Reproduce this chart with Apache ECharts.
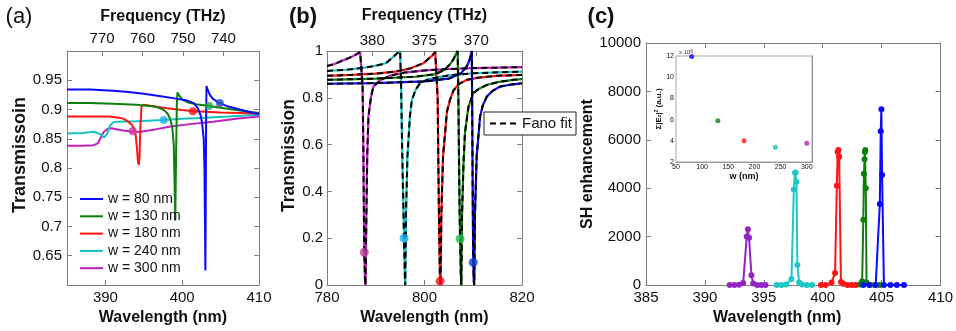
<!DOCTYPE html>
<html><head><meta charset="utf-8">
<script src="https://cdn.jsdelivr.net/npm/echarts@6/dist/echarts.min.js"></script>
<style>html,body{margin:0;padding:0;background:#fff}#c{width:956px;height:331px}</style>
</head><body><div id="c"></div>
<script>
// ---------------- DATA ----------------
const C_LIGHT = 299792.458; // nm*THz
const widthLabels = ['w = 80 nm', 'w = 130 nm', 'w = 180 nm', 'w = 240 nm', 'w = 300 nm'];

// (a) Transmission vs wavelength (nm)
const a_w80 = [[385,0.934],[388,0.934],[391,0.932],[393,0.930],[395,0.927],[397,0.923],[399,0.919],[400.5,0.916],[401.5,0.911],[402.0,0.903],[402.4,0.89],[402.6,0.876],[402.8,0.85],[402.9,0.80],[402.97,0.70],[403.02,0.625],[403.07,0.75],[403.11,0.88],[403.16,0.94],[403.3,0.935],[403.6,0.925],[404.0,0.918],[404.5,0.914],[404.9,0.911],[406,0.905],[407.5,0.9],[409,0.895],[410,0.892]];
const a_w130 = [[385,0.911],[388,0.911],[391,0.910],[394,0.908],[396.5,0.905],[397.5,0.9],[398.05,0.894],[398.4,0.885],[398.7,0.871],[398.9,0.84],[399.0,0.78],[399.1,0.71],[399.2,0.82],[399.3,0.91],[399.38,0.929],[399.6,0.924],[400,0.917],[400.8,0.912],[401.8,0.909],[403.5,0.906],[405,0.903],[407,0.899],[410,0.894]];
const a_w180 = [[385,0.888],[390.5,0.888],[391.8,0.886],[392.4,0.884],[393.0,0.879],[393.5,0.873],[393.9,0.862],[394.1,0.835],[394.25,0.81],[394.35,0.805],[394.45,0.82],[394.55,0.87],[394.7,0.905],[395.0,0.908],[396,0.906],[398,0.902],[400,0.899],[401.4,0.897],[403,0.896],[405,0.895],[407.5,0.894],[410,0.893]];
const a_w240 = [[385,0.859],[387,0.86],[388.5,0.862],[389.3,0.858],[389.8,0.852],[390.2,0.858],[390.6,0.872],[391.0,0.878],[391.5,0.879],[394,0.88],[397.6,0.882],[400,0.884],[403,0.886],[406,0.888],[410,0.891]];
const a_w300 = [[385,0.838],[387,0.838],[388.5,0.839],[389.0,0.842],[389.4,0.852],[389.8,0.862],[390.3,0.867],[390.8,0.868],[391.9,0.865],[393.5,0.862],[394.6,0.862],[396.5,0.866],[398.5,0.871],[401,0.875],[404,0.879],[407,0.884],[410,0.888]];
const a_marks = [[404.9,0.911],[403.5,0.906],[401.4,0.897],[397.6,0.882],[393.55,0.863]];

// (b) Transmission vs wavelength (nm), simulation (also used for Fano fit)
const b_w80 = [[780,0.86],[790,0.863],[800,0.87],[805,0.882],[807.5,0.905],[808.7,0.935],[809.3,0.965],[809.7,1.0],[809.8,0.7],[809.9,0.35],[810.0,0.097],[810.1,0.02],[810.2,0.0],[810.35,0.3],[810.7,0.55],[811.4,0.72],[812.0,0.77],[812.8,0.806],[814,0.83],[815.5,0.848],[817.5,0.856],[820,0.862]];
const b_w130 = [[780,0.877],[790,0.882],[798,0.89],[802,0.9],[804,0.918],[805.1,0.94],[805.9,0.963],[806.4,0.985],[806.8,1.0],[806.95,0.8],[807.1,0.5],[807.2,0.32],[807.3,0.198],[807.45,0.05],[807.55,0.0],[807.7,0.3],[808.0,0.52],[808.3,0.65],[809.0,0.76],[810.0,0.82],[811.3,0.84],[812.8,0.855],[815,0.867],[818.2,0.877],[820,0.88]];
const b_w180 = [[780,0.894],[785,0.898],[790,0.903],[794,0.912],[797,0.925],[799.8,0.948],[801.5,0.979],[802.2,0.995],[802.5,1.0],[802.7,0.8],[802.85,0.5],[803.0,0.25],[803.15,0.05],[803.2,0.017],[803.3,0.0],[803.45,0.3],[803.8,0.55],[804.6,0.74],[805.2,0.79],[805.9,0.83],[807,0.858],[808.7,0.877],[811,0.886],[814.8,0.894],[820,0.898]];
const b_w240 = [[780,0.915],[784,0.92],[787,0.927],[789.5,0.935],[791,0.942],[792.2,0.95],[793.6,0.975],[794.4,0.99],[795.0,1.0],[795.2,0.85],[795.4,0.6],[795.6,0.4],[795.8,0.2],[795.95,0.05],[796.05,0.0],[796.2,0.3],[796.5,0.55],[797.0,0.72],[797.4,0.79],[798.2,0.835],[799.1,0.863],[800.5,0.877],[801.8,0.884],[805,0.896],[810,0.905],[815,0.909],[820,0.912]];
const b_w300 = [[780,0.936],[781.5,0.944],[783.3,0.960],[784.5,0.970],[785.4,0.979],[786.2,0.988],[786.8,0.995],[787.1,1.0],[787.3,0.85],[787.45,0.6],[787.55,0.35],[787.65,0.14],[787.8,0.02],[787.9,0.0],[788.05,0.25],[788.25,0.55],[788.5,0.72],[789.0,0.80],[789.5,0.848],[790.9,0.875],[793,0.895],[796,0.908],[800,0.917],[805,0.923],[810,0.927],[815,0.929],[820,0.931]];
const b_marks = [[810.0,0.097],[807.3,0.198],[803.2,0.017],[795.8,0.2],[787.65,0.14]];

// (c) SH enhancement vs wavelength (nm)
const c_w80 = [[403.45,0],[403.95,0],[404.5,0],[404.85,3350],[404.93,6350],[404.98,7260],[405.04,4550],[405.2,0],[405.75,0],[406.3,0],[406.9,0]];
const c_w130 = [[403.15,20],[403.35,150],[403.45,2700],[403.5,4600],[403.55,5200],[403.58,5500],[403.62,5580],[403.66,4000],[403.72,100],[404.0,0],[404.4,0],[404.85,0]];
const c_w180 = [[399.85,0],[400.25,0],[400.75,100],[401.05,500],[401.2,4100],[401.27,5500],[401.33,5580],[401.4,5300],[401.55,120],[401.75,50],[402.1,0],[402.45,0],[402.8,0]];
const c_w240 = [[396.1,0],[396.5,0],[396.9,20],[397.35,250],[397.55,3950],[397.65,4640],[397.7,4650],[397.77,4270],[397.85,830],[398.0,100],[398.25,20],[398.65,0],[399.1,0]];
const c_w300 = [[392.1,0],[392.5,0],[392.9,10],[393.25,80],[393.55,2000],[393.65,2300],[393.75,1950],[393.95,400],[394.1,60],[394.45,0],[394.8,0],[395.15,0]];

// (c) inset: sum |Ez|^2 (x10^6) vs w (nm)
const inset_w = [80, 130, 180, 240, 300];
const inset_E = [11.95, 5.9, 4.0, 3.4, 3.78];

// tick labels
const aWaveTicks = [390, 400, 410];
const aFreqTicks = [740, 750, 760, 770];
const aTransTicks = [0.65, 0.7, 0.75, 0.8, 0.85, 0.9, 0.95];
const bFreqTicks = [370, 375, 380];
const insetWTicks = [50, 100, 150, 200, 250, 300];

// ---------------- STYLE ----------------
const FONT = '"Liberation Sans", Arial, Helvetica, sans-serif';
const AXC = '#7f7f7f', TXT = '#111';
const lineColors = ['#0a0aff', '#0b800b', '#ff1414', '#16c0c0', '#bf1fbf'];
const cColors = ['#0a0aff', '#0b800b', '#ff1414', '#1ec6c6', '#9224c4'];
const markA = ['#2152c4', '#22a84a', '#ff1010', '#1eaee8', '#c43ca0'];
const markB = ['#1040d0', '#20c050', '#ff1010', '#20b0e8', '#c040a0'];

function axis(o) {
  const a = {
    type: 'value', gridIndex: o.grid, position: o.pos, min: o.min, max: o.max,
    inverse: !!o.inverse,
    axisLine: {show: true, onZero: false, lineStyle: {color: AXC, width: 1}},
    axisTick: {show: true, inside: true, length: o.tickLen || 5, lineStyle: {color: AXC}},
    axisLabel: {show: o.labels !== false, color: TXT, fontSize: o.fs || 15, fontFamily: FONT,
                margin: (o.margin != null ? o.margin : 5), formatter: (v) => String(+v.toFixed(4))},
    splitLine: {show: false}
  };
  if (o.interval) a.interval = o.interval;
  if (o.ticks) { a.axisTick.customValues = o.ticks; a.axisLabel.customValues = o.labelsAt || o.ticks; }
  if (o.name) {
    a.name = o.name; a.nameLocation = 'middle'; a.nameGap = o.gap;
    a.nameTextStyle = Object.assign({fontSize: o.nfs || 16, fontWeight: 'bold', color: TXT, fontFamily: FONT}, o.nts || {});
  }
  return a;
}

const xAxis = [
  axis({grid:0, pos:'bottom', min:385, max:410, ticks:[390,400], labelsAt:aWaveTicks, name:'Wavelength (nm)', gap:19}),
  axis({grid:0, pos:'top', min:C_LIGHT/410, max:C_LIGHT/385, inverse:true, ticks:aFreqTicks, name:'Frequency (THz)', gap:26}),
  axis({grid:1, pos:'bottom', min:780, max:820, interval:20, name:'Wavelength (nm)', gap:18}),
  axis({grid:1, pos:'top', min:C_LIGHT/820, max:C_LIGHT/780, inverse:true, ticks:bFreqTicks, margin:3, name:'Frequency (THz)', gap:27}),
  axis({grid:2, pos:'bottom', min:385, max:410, interval:5, name:'Wavelength (nm)', gap:20, nts:{padding:[0,32,0,0]}}),
  axis({grid:2, pos:'top', min:385, max:410, interval:5, labels:false}),
  axis({grid:3, pos:'bottom', min:50, max:310, ticks:insetWTicks, fs:7, margin:2, tickLen:2, name:'w (nm)', gap:9, nfs:9}),
  axis({grid:3, pos:'top', min:50, max:310, ticks:insetWTicks, labels:false, tickLen:2})
];
const yAxis = [
  axis({grid:0, pos:'left', min:0.6, max:1.0, ticks:aTransTicks, name:'Transmissoin', gap:36, nfs:18, nts:{padding:[0,0,0,26]}}),
  axis({grid:0, pos:'right', min:0.6, max:1.0, ticks:aTransTicks, labels:false}),
  axis({grid:1, pos:'left', min:0, max:1, interval:0.2, margin:4, name:'Transmission', gap:23, nfs:17.5, nts:{padding:[0,0,0,25]}}),
  axis({grid:1, pos:'right', min:0, max:1, interval:0.2, labels:false}),
  axis({grid:2, pos:'left', min:0, max:10000, interval:2000, name:'SH enhancement', gap:43}),
  axis({grid:2, pos:'right', min:0, max:10000, interval:2000, labels:false}),
  axis({grid:3, pos:'left', min:2, max:12, interval:2, fs:7, margin:2, tickLen:2,
        name:'{a|Σ|E}{b|z}{a||}{c|2}{a| (a.u.)}', gap:10, nfs:8,
        nts:{rich:{a:{fontSize:8, fontFamily:FONT, color:TXT}, b:{fontSize:5, fontFamily:FONT, color:TXT, verticalAlign:'bottom'}, c:{fontSize:5, fontFamily:FONT, color:TXT, verticalAlign:'top'}}}}),
  axis({grid:3, pos:'right', min:2, max:12, interval:2, labels:false, tickLen:2})
];

const series = [];
const aData = [a_w80, a_w130, a_w180, a_w240, a_w300];
const bData = [b_w80, b_w130, b_w180, b_w240, b_w300];
const cData = [c_w80, c_w130, c_w180, c_w240, c_w300];
// (a) lines: draw from w300 up to w80 so blue is on top
for (let i = 4; i >= 0; i--) {
  series.push({type:'line', name: widthLabels[i], xAxisIndex:0, yAxisIndex:0, data: aData[i], symbol:'none',
    lineStyle:{width:2, color: lineColors[i]}, itemStyle:{color: lineColors[i]}, z: 3});
}
series.push({type:'scatter', xAxisIndex:0, yAxisIndex:0, symbolSize:8, z:5,
  data: a_marks.map((p, i) => ({value: p, itemStyle: {color: markA[i]}}))});
// (b) simulation lines (colored) + Fano fit (black dashed)
for (let i = 4; i >= 0; i--) {
  series.push({type:'line', name:'sim' + i, xAxisIndex:2, yAxisIndex:2, data: bData[i], symbol:'none',
    lineStyle:{width:2.2, color: lineColors[i]}, z: 3});
}
for (let i = 4; i >= 0; i--) {
  series.push({type:'line', name:'Fano fit', xAxisIndex:2, yAxisIndex:2, data: bData[i], symbol:'none',
    lineStyle:{width:2, color:'#000', type:[6,4]}, itemStyle:{color:'#000'}, z: 4});
}
series.push({type:'scatter', xAxisIndex:2, yAxisIndex:2, symbolSize:9, z:6,
  data: b_marks.map((p, i) => ({value: p, itemStyle: {color: markB[i]}}))});
// (c) SH spectra
for (let i = 4; i >= 0; i--) {
  series.push({type:'line', name:'sh' + i, xAxisIndex:4, yAxisIndex:4, data: cData[i], symbol:'circle', symbolSize:6, showSymbol:true,
    lineStyle:{width:2, color: cColors[i]}, itemStyle:{color: cColors[i]}, z: 3});
}
// inset
series.push({type:'scatter', xAxisIndex:6, yAxisIndex:6, symbolSize:5, z:8,
  data: inset_w.map((w, i) => ({value: [w, inset_E[i]], itemStyle: {color: lineColors[i]}}))});

const option = {
  animation: false,
  backgroundColor: '#fff',
  textStyle: {fontFamily: FONT},
  grid: [
    {left:67, top:51, width:192, height:234},
    {left:327, top:51, width:195, height:235},
    {left:646, top:43, width:297, height:242},
    {left:676, top:56, width:136, height:106, show:true, backgroundColor:'#fff', borderWidth:1, borderColor:'#aaa', z:6}
  ],
  xAxis, yAxis, series,
  legend: [
    {data: widthLabels, orient:'vertical', left:74, top:187, itemWidth:23, itemHeight:14, itemGap:3.3,
     textStyle:{fontSize:14, color:TXT, fontFamily:FONT}, itemStyle:{opacity:0}, selectedMode:false},
    {data: ['Fano fit'], left:484, top:112, itemWidth:27, itemHeight:12, padding:[4,4,4,5],
     borderColor:'#222', borderWidth:1, backgroundColor:'#fff', itemStyle:{opacity:0},
     textStyle:{fontSize:15, color:TXT, fontFamily:FONT}, selectedMode:false, z:10}
  ],
  graphic: [
    {type:'text', style:{text:'(a)', x:19, y:17, align:'center', verticalAlign:'middle', fontSize:22, fontFamily:FONT, fill:'#111'}},
    {type:'text', style:{text:'(b)', x:303, y:17, align:'center', verticalAlign:'middle', fontSize:22, fontWeight:'bold', fontFamily:FONT, fill:'#111'}},
    {type:'text', style:{text:'(c)', x:601, y:17, align:'center', verticalAlign:'middle', fontSize:22, fontWeight:'bold', fontFamily:FONT, fill:'#111'}},
    {type:'text', z:20, style:{text:'{a|x 10}{b|6}', x:679, y:52, align:'left', verticalAlign:'middle',
      rich:{a:{fontSize:6, fontFamily:FONT, fill:'#333'}, b:{fontSize:5, fontFamily:FONT, fill:'#333', verticalAlign:'top'}}}}
  ]
};
const chart = echarts.init(document.getElementById('c'), null, {renderer:'canvas'});
chart.setOption(option);
</script></body></html>
